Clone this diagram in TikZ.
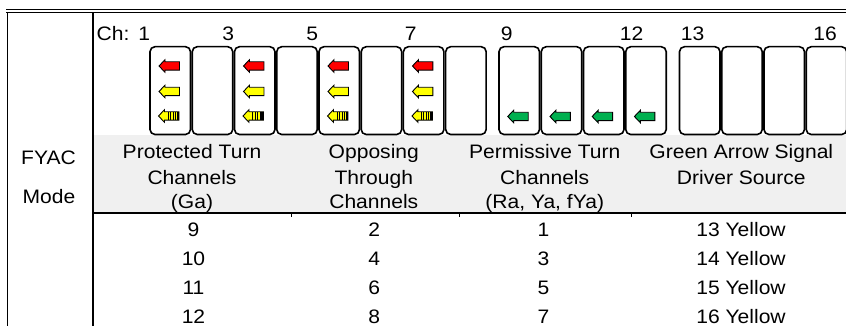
\documentclass[tikz,border=0pt]{standalone}
\usepackage{fontspec}
\setmainfont{Liberation Sans}[FakeStretch=1.08]
\definecolor{hdrgray}{RGB}{240,240,240}
\definecolor{sgreen}{RGB}{0,176,80}
\definecolor{sred}{RGB}{255,0,0}
\definecolor{syellow}{RGB}{255,255,0}
\begin{document}
\begin{tikzpicture}[x=1pt,y=-1pt,
  txt/.style={inner sep=0pt,anchor=base,font=\fontsize{19.5}{24}\selectfont},
  chbox/.style={draw,line width=1.6pt,rounded corners=5pt,minimum width=40.5pt,minimum height=87.8pt,inner sep=0pt},
  frame/.style={line width=1.5pt},
  pics/larrow/.style={code={
    \draw[line width=0.9pt,fill=#1,line join=miter] (0,0) -- (6,-6.3) -- (6,-4.2) -- (20.5,-4.2) -- (20.5,4.2) -- (6,4.2) -- (6,6.3) -- cycle;}},
  pics/flasharrow/.style={code={
    \draw[line width=0.9pt,fill=syellow,line join=miter] (0,0) -- (6,-6.3) -- (6,-4.2) -- (20.5,-4.2) -- (20.5,4.2) -- (6,4.2) -- (6,6.3) -- cycle;
    \foreach \s in {9.5,12,14.5,17} \draw[line width=0.9pt] (\s,-4.2) -- (\s,4.2);
    \fill (18.3,-4.2) rectangle (20.5,4.2);}}
]
\useasboundingbox (0,0) rectangle (846,326);
% header gray band
\fill[hdrgray] (93.5,135) rectangle (846,212.5);
% frame lines
\coordinate (tl1) at (6,9.5);
\coordinate (tr1) at (846,9.5);
\coordinate (tl2) at (6,12.7);
\coordinate (tr2) at (846,12.7);
\coordinate (vl) at (7.3,326);
\coordinate (vmt) at (92.8,12.7);
\coordinate (vmb) at (92.8,326);
\coordinate (hl) at (92.8,213);
\coordinate (hr) at (846,213);
\draw[frame] (tl1) -- (tr1);
\draw[frame] (tl2) -- (tr2);
\draw[frame] (7.3,12.7) -- (vl);
\draw[frame] (vmt) -- (vmb);
\draw[line width=1.3pt] (hl) -- (hr);
\foreach \x [count=\k] in {291.7,459,631.7} {
  \coordinate (tk\k a) at (\x,213);
  \coordinate (tk\k b) at (\x,217);
  \draw[line width=0.8pt] (tk\k a) -- (tk\k b);
}
% channel boxes
\foreach \i in {0,...,7} {
  \pgfmathtruncatemacro\n{\i+1}
  \node[chbox] (b\n) at (150+42.24*\i+20.25,90.6) {};
}
\foreach \i in {0,...,3} {
  \pgfmathtruncatemacro\n{\i+9}
  \node[chbox] (b\n) at (499+42.24*\i+20.25,90.6) {};
}
\foreach \i in {0,...,3} {
  \pgfmathtruncatemacro\n{\i+13}
  \node[chbox] (b\n) at (679.5+42.24*\i+20.25,90.6) {};
}
% arrows
\foreach \i in {0,2,4,6} {
  \pic at (150+42.24*\i+9,66) {larrow=sred};
  \pic at (150+42.24*\i+9,91.5) {larrow=syellow};
  \pic at (150+42.24*\i+8.5,116) {flasharrow};
}
\foreach \i in {0,...,3} {
  \pic at (499+42.24*\i+8.7,116.5) {larrow=sgreen};
}
% channel labels
\node[txt,anchor=base west] (chlab) at (96.5,40.5) {Ch:};
\node[txt] (c1) at (144.3,40.5) {1};
\node[txt] (c3) at (228.3,40.5) {3};
\node[txt] (c5) at (312.3,40.5) {5};
\node[txt] (c7) at (410.7,40.5) {7};
\node[txt] (c9) at (506.7,40.5) {9};
\node[txt] (c12) at (631.7,40.5) {12};
\node[txt] (c13) at (692.7,40.5) {13};
\node[txt] (c16) at (825,40.5) {16};
% left column
\node[txt] (fyac) at (48.5,164.3) {FYAC};
\node[txt] (mode) at (49,204) {Mode};
% headers
\node[txt] (h1a) at (192,159) {Protected Turn};
\node[txt] (h1b) at (192,184.5) {Channels};
\node[txt] (h1c) at (192,208.5) {(Ga)};
\node[txt] (h2a) at (373.8,159) {Opposing};
\node[txt] (h2b) at (373.8,184.5) {Through};
\node[txt] (h2c) at (373.8,208) {Channels};
\node[txt] (h3a) at (544.7,159) {Permissive Turn};
\node[txt] (h3b) at (544.7,184.5) {Channels};
\node[txt] (h3c) at (544.7,208.5) {(Ra, Ya, fYa)};
\node[txt] (h4a) at (741.3,159) {Green Arrow Signal};
\node[txt] (h4b) at (741.3,184.5) {Driver Source};
% data rows
\foreach \a/\b/\c/\d [count=\r] in {9/2/1/13,10/4/3/14,11/6/5/15,12/8/7/16} {
  \node[txt] (r\r c1) at (193.5,236+29*\r-29) {\a};
  \node[txt] (r\r c2) at (374.3,236+29*\r-29) {\b};
  \node[txt] (r\r c3) at (543.5,236+29*\r-29) {\c};
  \node[txt] (r\r c4) at (741,236+29*\r-29) {\d{} Yellow};
}
\end{tikzpicture}
\end{document}
